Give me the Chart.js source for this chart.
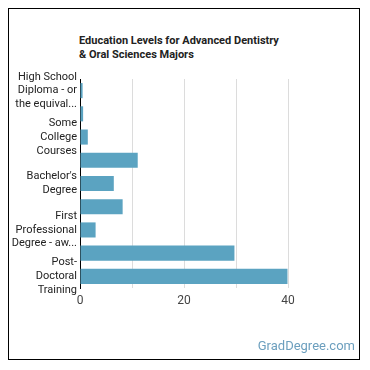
<!DOCTYPE html>
<html>
<head>
<meta charset="utf-8">
<script src="https://cdn.jsdelivr.net/npm/chart.js@4.4.0/dist/chart.umd.min.js"></script>
<style>
  body { margin: 0; background: #fff; font-family: Roboto, sans-serif; }
  #wrap { position: relative; width: 370px; height: 370px; }
  #frame { position: absolute; left: 8px; top: 8px; width: 350px; height: 350px; border: 1px solid #000; }
  #title { position: absolute; left: 79px; top: 34px; font: bold 11px Roboto, sans-serif; line-height: 14px; color: #222; }
  #brand { position: absolute; right: 15px; top: 338px; font: 13px Roboto, sans-serif; color: #6c9fbe; }
  canvas { position: absolute; left: 0; top: 0; }
</style>
</head>
<body>
<div id="wrap">
  <div id="frame"></div>
  <div id="title">Education Levels for Advanced Dentistry<br>&amp; Oral Sciences Majors</div>
  <canvas id="mycanvas" width="370" height="370"></canvas>
  <div id="brand">GradDegree.com</div>
</div>
<script>
var categories = [
  "High School Diploma - or the equivalent",
  "Post-Secondary Certificate",
  "Some College Courses",
  "Associate's Degree",
  "Bachelor's Degree",
  "Master's Degree",
  "First Professional Degree - awarded for completion of a program",
  "Doctoral Degree",
  "Post-Doctoral Training"
];
var percents = [0.5, 0.6, 1.5, 11.1, 6.5, 8.2, 3.0, 29.7, 39.9];
var tickLabels = [
  ["High School", "Diploma - or", "the equival..."],
  "",
  ["Some", "College", "Courses"],
  "",
  ["Bachelor's", "Degree"],
  "",
  ["First", "Professional", "Degree - aw..."],
  "",
  ["Post-", "Doctoral", "Training"]
];

var ctx = document.getElementById("mycanvas");
var barGraph = new Chart(ctx, {
  type: 'bar',
  data: {
    labels: categories,
    datasets: [{
      data: percents,
      backgroundColor: '#5ba3c1',
      categoryPercentage: 1,
      barPercentage: 0.65
    }]
  },
  options: {
    indexAxis: 'y',
    responsive: false,
    animation: false,
    layout: { padding: { top: 79, right: 30, bottom: 57, left: 0 } },
    plugins: { legend: { display: false }, tooltip: { enabled: false } },
    scales: {
      y: {
        afterFit: function(scale) { scale.width = 80; },
        grid: { display: false, drawTicks: false },
        border: { display: true, color: '#000', width: 1 },
        ticks: {
          autoSkip: false,
          padding: 3,
          color: '#222',
          font: { family: 'Roboto', size: 11, lineHeight: 1.25 },
          callback: function(v, i) { return tickLabels[i]; }
        }
      },
      x: {
        min: 0,
        max: 50,
        afterFit: function(scale) { scale.height = 25; },
        border: { display: false },
        grid: {
          drawTicks: false,
          color: function(c) { return c.tick && c.tick.value === 50 ? 'rgba(0,0,0,0)' : '#dcdcdc'; }
        },
        ticks: {
          stepSize: 10,
          padding: 6,
          color: '#444',
          font: { family: 'Roboto', size: 12 },
          callback: function(v) { return v % 20 === 0 && v < 50 ? v : ''; }
        }
      }
    }
  }
});
</script>
</body>
</html>
